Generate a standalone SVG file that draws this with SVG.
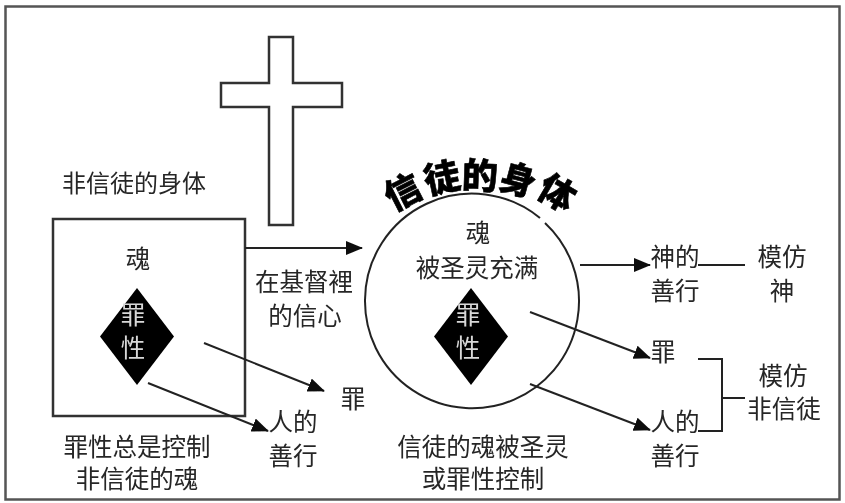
<svg xmlns="http://www.w3.org/2000/svg" width="845" height="503" viewBox="0 0 845 503">
<style>
text{font-family:"Noto Sans CJK SC","Noto Sans",sans-serif;font-size:24.500px;fill:#262626;text-anchor:middle}
.w{fill:#d8d8d8}
.t{font-size:36px;font-weight:900;fill:#000;stroke:#000;stroke-width:.6}
.s{fill:#fff;stroke:#333;stroke-width:2.5}
.l{fill:none;stroke:#222;stroke-width:2}
</style>
<defs>
<marker id="a" markerUnits="userSpaceOnUse" markerWidth="18" markerHeight="16" refX="16" refY="7" orient="auto"><path d="M0 0L17 7L0 14Z" fill="#111"/></marker>
<filter id="b" x="-5%" y="-5%" width="110%" height="110%"><feGaussianBlur stdDeviation="0.7"/></filter>
</defs>
<rect width="845" height="503" fill="#fff"/>
<g filter="url(#b)">
<rect id="frame" x="5.500" y="6.500" width="834" height="493" fill="none" stroke="#555" stroke-width="2.500"/>
<g id="cross"><path class="s" d="M269 37H293V83H342V107H293V225H269V107H221V83H269Z" stroke-width="2"/></g>
<g id="unbeliever-label"><text x="134" y="192" style="font-size:24px">非信徒的身体</text></g>
<g id="unbeliever-body">
<rect class="s" x="53" y="219" width="192" height="197"/>
<text x="138" y="268">魂</text>
</g>
<g id="unbeliever-sin">
<path d="M137 288L174 336.500L137 385L100 336.500Z" fill="#000"/>
<text class="w" x="133" y="323.500">罪</text><text class="w" x="133" y="356.500">性</text>
</g>
<g id="faith-label"><text x="304" y="291">在基督裡</text><text x="305" y="325">的信心</text></g>
<g id="believer-title">
<text class="t" transform="translate(403 192) rotate(-27)" y="13">信</text>
<text class="t" transform="translate(442 178) rotate(-12)" y="13">徒</text>
<text class="t" transform="translate(480 176) rotate(2)" y="13">的</text>
<text class="t" transform="translate(518 180) rotate(15)" y="13">身</text>
<text class="t" transform="translate(557 193) rotate(30)" y="13">体</text>
</g>
<g id="believer-body">
<path class="l" d="M540 218A107 107 0 0 0 365 300A107 107 0 1 0 545 223"/>
<text x="478" y="242">魂</text>
<text x="477" y="277">被圣灵充满</text>
</g>
<g id="believer-sin">
<path d="M471 288L508 336.500L471 385L434 336.500Z" fill="#000"/>
<text class="w" x="468" y="323.500">罪</text><text class="w" x="468" y="356.500">性</text>
</g>
<g id="connectors">
<path class="l" marker-end="url(#a)" d="M245 248H362"/>
<path class="l" marker-end="url(#a)" d="M204 343L324 391"/>
<path class="l" marker-end="url(#a)" d="M148 383L268 431"/>
<path class="l" marker-end="url(#a)" d="M580 265H650"/>
<path class="l" marker-end="url(#a)" d="M530 312L650 358"/>
<path class="l" marker-end="url(#a)" d="M530 384L650 430"/>
<path class="l" d="M698 265H745"/>
<path class="l" d="M698 359H722V431H698M722 398H745"/>
</g>
<g id="sin-left"><text x="353" y="408">罪</text></g>
<g id="human-good-left"><text x="293" y="431">人的</text><text x="293" y="465">善行</text></g>
<g id="caption-left"><text x="137" y="456">罪性总是控制</text><text x="137" y="488">非信徒的魂</text></g>
<g id="caption-right"><text x="483" y="456">信徒的魂被圣灵</text><text x="483" y="488">或罪性控制</text></g>
<g id="god-good"><text x="675" y="266">神的</text><text x="675" y="300">善行</text></g>
<g id="imitate-god"><text x="782" y="266">模仿</text><text x="782" y="300">神</text></g>
<g id="sin-right"><text x="663" y="361">罪</text></g>
<g id="human-good-right"><text x="675" y="431">人的</text><text x="675" y="465">善行</text></g>
<g id="imitate-unbeliever"><text x="783" y="385">模仿</text><text x="784" y="418">非信徒</text></g>
</g>
</svg>
